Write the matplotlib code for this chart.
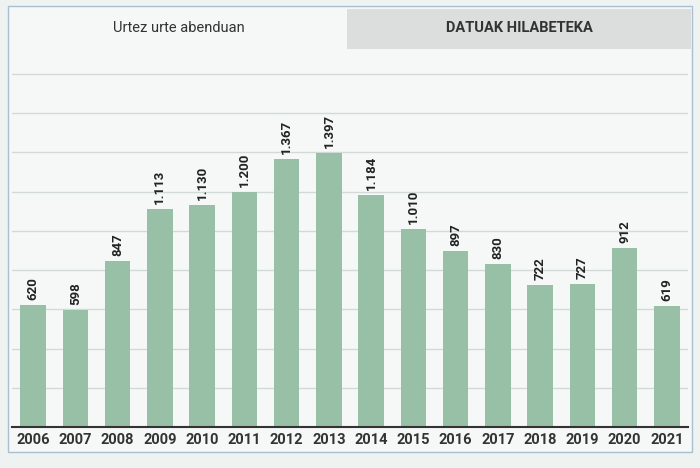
import matplotlib.pyplot as plt
from matplotlib.patches import Rectangle

years = ['2006', '2007', '2008', '2009', '2010', '2011', '2012', '2013',
         '2014', '2015', '2016', '2017', '2018', '2019', '2020', '2021']
values = [620, 598, 847, 1113, 1130, 1200, 1367, 1397,
          1184, 1010, 897, 830, 722, 727, 912, 619]
tab_labels = ['Urtez urte abenduan', 'DATUAK HILABETEKA']

def fmt(v):
    return f'{v:,}'.replace(',', '.')

bg = '#f5f8f6'
fig = plt.figure(figsize=(7, 4.68), dpi=100, facecolor='#eef3f2')

# outer frame and tabs (behind the axes)
fig.patches.append(Rectangle((8/700, 1-452/468), 684/700, 446/468, transform=fig.transFigure,
                             facecolor=bg, edgecolor='#a9bfd0', lw=1, zorder=-2))
fig.patches.append(Rectangle((347/700, 1-49/468), 344/700, 40/468, transform=fig.transFigure,
                             facecolor='#dcdedd', edgecolor='none', zorder=-1))
fig.text(179/700, 1-28/468, tab_labels[0], ha='center', va='center', fontsize=10.5,
         family='Roboto', color='#333333')
fig.text(519/700, 1-28/468, tab_labels[1], ha='center', va='center', fontsize=10.5,
         family='Roboto', weight='bold', color='#333333')

ax = fig.add_axes([12/700, 1-427/468, 676/700, 377/468])
ax.set_facecolor(bg)
x = range(len(years))
ax.bar(x, values, width=0.6, color='#97c0a6', zorder=2)
for i, v in zip(x, values):
    ax.text(i, v + 25, fmt(v), rotation=90, ha='center', va='bottom', fontsize=9.5,
            family='Roboto', weight='bold', color='#222222')
ax.set_xlim(-0.5, len(years) - 0.5)
ax.set_ylim(0, 1922)
ax.set_yticks(range(0, 1801, 200))
ax.yaxis.grid(True, color='#d2dad8', lw=1, zorder=0)
ax.set_axisbelow(True)
ax.tick_params(axis='y', left=False, labelleft=False)
ax.tick_params(axis='x', length=0, pad=4)
ax.set_xticks(list(x))
ax.set_xticklabels(years, fontsize=10.5, family='Roboto', weight='bold', color='#333333')
for s in ['top', 'right', 'left']:
    ax.spines[s].set_visible(False)
ax.spines['bottom'].set_color('#333333')
ax.spines['bottom'].set_linewidth(1.5)

fig.savefig('out.png', dpi=100, facecolor=fig.get_facecolor())
